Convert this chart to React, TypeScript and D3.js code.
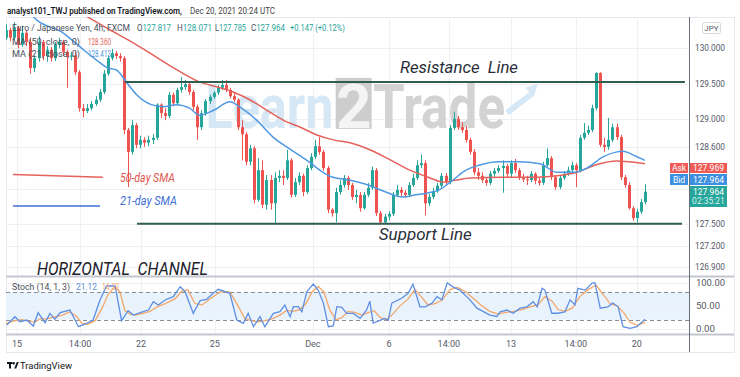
import React from 'react';
import * as d3 from 'd3';

// ---------- DATA (EUR/JPY 4h) ----------
const firstOpen = 130.15;
const closes = [
  130.26,130.15,130.29,130.05,130.22,130.09,129.72,129.86,130.09,129.89,
  129.98,129.86,130.05,130.09,129.95,129.88,129.90,129.66,129.15,129.11,
  129.15,129.21,129.27,129.38,129.64,129.86,129.93,129.89,129.86,128.84,
  128.53,128.91,128.63,128.70,128.66,128.70,128.73,129.20,129.08,129.04,
  129.34,129.22,129.41,129.45,129.49,129.38,129.17,128.88,129.08,129.25,
  129.31,129.37,129.44,129.48,129.41,129.32,129.27,128.88,128.78,128.39,
  128.58,127.85,128.27,127.78,128.13,127.80,128.16,128.19,128.16,128.41,
  127.92,128.10,128.19,127.96,128.30,128.46,128.61,128.53,128.30,127.71,
  127.66,127.96,128.06,128.16,128.06,127.89,127.92,127.73,127.92,128.02,
  128.27,127.66,127.53,127.61,127.65,127.92,127.99,127.95,127.92,128.06,
  128.16,128.34,128.37,127.80,127.89,127.97,128.05,128.19,128.10,128.87,
  129.00,128.88,128.84,128.70,128.53,128.24,128.19,128.13,128.09,128.22,
  128.26,128.30,128.33,128.22,128.37,128.27,128.17,128.14,128.13,128.22,
  128.12,128.09,128.34,128.44,128.17,128.03,128.16,128.22,128.27,128.34,
  128.27,128.73,128.80,128.84,129.15,129.65,128.63,128.60,128.70,128.88,
  128.74,128.17,128.06,127.73,127.59,127.68,127.817,127.964,
];
const highs = [
  130.34,130.29,130.37,130.32,130.32,130.26,130.15,129.90,130.17,130.12,
  130.03,130.02,130.09,130.15,130.12,129.98,129.95,129.95,129.69,129.21,
  129.21,129.25,129.32,129.42,129.69,129.90,129.99,129.96,129.93,129.89,
  128.87,128.98,128.94,128.76,128.74,128.76,128.78,129.22,129.22,129.15,
  129.38,129.37,129.44,129.59,129.55,129.52,129.41,129.20,129.12,129.28,
  129.34,129.39,129.48,129.55,129.55,129.44,129.37,129.29,128.98,128.81,
  128.63,128.61,128.44,128.41,128.20,128.20,128.24,128.27,128.27,128.56,
  128.44,128.16,128.24,128.22,128.34,128.51,128.70,128.74,128.56,128.33,
  127.73,128.02,128.13,128.20,128.19,128.09,127.99,127.96,127.96,128.09,
  128.32,128.30,127.69,127.65,127.69,127.96,128.06,128.03,127.99,128.10,
  128.22,128.41,128.49,128.41,127.93,128.02,128.09,128.23,128.23,128.91,
  129.10,129.04,128.95,128.90,128.73,128.57,128.30,128.24,128.17,128.26,
  128.30,128.34,128.41,128.36,128.41,128.43,128.30,128.22,128.19,128.26,
  128.24,128.16,128.39,128.58,128.47,128.20,128.20,128.26,128.32,128.39,
  128.37,128.77,128.94,128.90,129.20,129.66,129.66,128.73,129.01,128.93,
  128.93,128.77,128.20,128.10,127.76,127.72,127.86,128.071,
];
const lows = [
  130.12,130.10,130.12,130.00,130.02,130.03,129.64,129.66,129.81,129.83,
  129.81,129.81,129.82,130.00,129.89,129.44,129.83,129.62,129.10,129.02,
  129.08,129.12,129.18,129.24,129.35,129.61,129.83,129.85,129.81,128.78,
  128.03,128.49,128.58,128.58,128.60,128.61,128.64,128.70,129.01,128.98,
  129.01,129.18,129.20,129.37,129.41,129.34,129.12,128.70,128.84,129.04,
  129.21,129.28,129.34,129.41,129.38,129.29,129.24,128.84,128.41,128.34,
  128.34,127.80,127.82,127.73,127.71,127.71,127.52,128.10,128.06,128.13,
  127.88,127.89,128.06,127.90,127.93,128.27,128.43,128.49,128.26,127.66,
  127.61,127.53,127.92,128.02,127.99,127.85,127.80,127.68,127.71,127.89,
  127.99,127.62,127.51,127.52,127.56,127.62,127.89,127.90,127.88,127.89,
  128.03,128.13,128.30,127.63,127.76,127.86,127.95,128.02,128.06,128.07,
  128.84,128.84,128.80,128.66,128.49,128.20,128.13,128.09,128.05,128.06,
  128.17,128.23,127.95,128.17,128.17,128.23,128.13,128.10,128.06,128.10,
  128.07,128.05,128.06,128.32,128.13,127.99,128.00,128.13,128.19,128.24,
  128.03,128.24,128.70,128.77,128.81,129.12,128.60,128.53,128.56,128.67,
  128.70,128.13,128.02,127.71,127.55,127.53,127.65,127.785,
];

// moving averages: [bar index, price]
const ma50: [number, number][] = [
  [17,130.55],[21.4,130.40],[25.6,130.26],[30,130.12],[35.4,129.93],[41,129.73],[47.7,129.52],
  [51.9,129.45],[55.8,129.38],[59.9,129.27],[64.1,129.12],[68.1,128.98],[72.3,128.88],[76.4,128.77],
  [80.4,128.70],[84.5,128.66],[89.4,128.56],[94.3,128.42],[99.2,128.27],[104.2,128.16],[107.4,128.10],
  [110.8,128.13],[114,128.16],[122.1,128.17],[130.5,128.17],[135.4,128.19],[140.3,128.24],
  [145.2,128.35],[150.1,128.40],[157,128.36],
];
const ma21: [number, number][] = [
  [5,130.55],[7.6,130.40],[14,130.22],[18.2,130.02],[22.3,129.83],[24.7,129.73],[27.2,129.69],
  [29.7,129.51],[32.1,129.34],[35.7,129.20],[38.7,129.17],[41.9,129.20],[45.1,129.15],[47.6,129.05],
  [51,129.12],[55,129.24],[57.4,129.17],[61.6,128.98],[65.6,128.74],[69.5,128.58],[73.7,128.42],
  [77.9,128.24],[80.3,128.17],[84.3,128.13],[88.4,128.07],[93.3,127.96],[97.5,127.89],[100.7,127.92],
  [103.9,127.95],[106.4,127.99],[109.8,128.13],[113,128.27],[116.2,128.34],[121.1,128.39],[126,128.39],
  [131.2,128.36],[135.4,128.24],[139.3,128.24],[142.7,128.30],[146.7,128.46],[150.1,128.53],
  [151.6,128.54],[155,128.46],[157,128.41],
];

// stochastic (14,1,3): [bar index, value]
const stochK: [number, number][] = [
  [0.2,8.6],[2.2,26.6],[3.4,15.8],[5.1,19.4],[6.7,6.5],[7.9,35.3],[9.6,13.7],[10.8,33.8],[12,20.9],
  [13.3,35.3],[15.7,41],[17.8,5],[19.8,12.2],[21.4,19.4],[23.1,62.6],[24.7,92.9],[26.8,92.9],[28.4,18],
  [30,39.6],[31.3,30.2],[33.7,37.4],[35,41],[36.2,59],[37.4,51.8],[39.1,62.6],[41.1,69.8],[42.8,91.4],
  [44,80.6],[46,33.8],[47.7,61.2],[49.3,64.1],[50.9,77.1],[52.2,85.7],[55,77.1],[56.7,19.4],[58.3,12.2],
  [59.5,33.8],[60.8,5],[62.4,26.6],[63.6,5],[65.7,33.8],[67.3,37.4],[68.5,51.8],[69.8,26.6],[70.6,48.2],
  [71.8,48.2],[72.7,37.4],[73.9,80.6],[75.5,97.2],[76.7,84.2],[78,55.4],[79.2,5],[80.4,6.5],[81.3,48.2],
  [82.5,46.8],[83.7,33.8],[85.3,33.8],[87,23],[88.6,41],[89.4,60],[90.2,13],[93.1,23],[93.9,19],
  [94.8,56],[97.3,67],[98.8,77],[100,97],[101.7,48],[103,48],[104.7,56],[105.9,70],[107.1,63],
  [108.4,100],[109.8,91],[111.5,84],[114,63],[115.7,45],[118.9,30],[120.6,27],[121.4,37],[123.1,41],
  [124.6,34],[126.3,45],[128,48],[129.5,59],[130.5,48],[131.7,88],[132.4,84],[134.1,34],[135.6,34],
  [137.3,37],[138.6,63],[139.8,52],[140.5,88],[142.3,84],[144,99],[144.7,100],[146,45],[147.9,48],
  [149.1,56],[150.4,48],[151.6,5],[153.3,1.5],[155,5],[157,21.12],
];
const stochD: [number, number][] = [
  [0,12],[2.2,18],[3.9,20],[5.4,17],[7.1,15],[8.4,22],[10.1,22],[11.3,25],[12.5,27],[13.8,30],
  [15.7,37],[17.2,28],[18.7,12],[20.1,10],[21.9,18],[23.6,45],[25.1,75],[26.8,92],[28,80],[29.2,40],
  [30.5,32],[31.7,30],[33.7,34],[35.4,38],[37.1,48],[39.1,55],[41.5,65],[43.2,82],[44.7,85],[46.4,55],
  [48.2,52],[50.1,65],[52.6,80],[55,80],[57,50],[58.7,22],[60.4,18],[61.9,15],[63.6,18],[65.4,22],
  [67.3,30],[69,40],[70.5,38],[72.2,42],[73.7,55],[75.2,80],[76.7,92],[78.1,80],[79.6,40],[81.1,20],
  [82.6,25],[84,38],[85.7,36],[87.5,30],[88.9,35],[90.4,40],[91.9,25],[93.4,20],[94.8,30],[96.8,50],
  [98.8,65],[100.5,85],[102,70],[103.7,52],[105.4,55],[107.1,62],[109.1,85],[111,90],[113,80],[115,65],
  [116.9,50],[118.9,38],[120.9,32],[122.8,36],[124.8,38],[126.8,42],[128.7,48],[130.7,52],[132.4,70],
  [134.2,60],[135.6,42],[137.4,38],[139.1,45],[141,70],[143,85],[145,95],[146.7,75],[148.4,55],
  [150.1,50],[151.8,35],[153.3,15],[155,8],[157,14.32],
];

const priceTicks = [130, 129.5, 129, 128.6, 127.5, 127.2, 126.9];
const hiddenGridPrices = [128.0];
const stochTicks = [100, 50, 0];
const timeTickIdx = [2.7, 18.2, 33.2, 51.3, 75.4, 94.1, 108.8, 124.1, 140, 155];
const timeTickLabels = ['15', '14:00', '22', '25', 'Dec', '6', '14:00', '13', '14:00', '20'];

// drawings: horizontal channel
const resistance = { from: 29.2, to: 166.8, price: 129.52 };
const support = { from: 32.2, to: 166.1, price: 127.51 };

// ---------- LAYOUT ----------
const W = 740, H = 377;
const L = 6, R = 689, MT = 17, MB = 276, ST = 277, SB = 334, AB = 352;
const UP = '#26a69a', DN = '#ef5350';
const FONT = 'Roboto, "Liberation Sans", Arial, sans-serif';

export default function App() {
  const x = d3.scaleLinear().domain([0, 157]).range([6, 645]);
  const yP = d3.scaleLinear().domain([126.9, 130]).range([266.7, 48.3]);
  const yS = d3.scaleLinear().domain([0, 100]).range([329, 282.7]);

  const maLine = d3.line<[number, number]>().x(d => x(d[0])).y(d => yP(d[1])).curve(d3.curveMonotoneX);
  const stLine = d3.line<[number, number]>().x(d => x(d[0])).y(d => yS(d[1]));

  const candles = closes.map((c, i) => ({ i, o: i === 0 ? firstOpen : closes[i - 1], h: highs[i], l: lows[i], c }));

  return (
    <div style={{ position: 'absolute', left: 0, top: 0, width: W, height: H, background: '#fff' }}>
      <svg width={W} height={H} style={{ display: 'block', fontFamily: FONT }}>
        <defs>
          <clipPath id="main"><rect x={L} y={MT} width={R - L} height={MB - MT} /></clipPath>
          <clipPath id="st"><rect x={L} y={ST} width={R - L} height={SB - ST} /></clipPath>
        </defs>
        <rect x={0} y={0} width={W} height={H} fill="#fff" />

        {/* header */}
        <text x={7} y={14} fontSize={8.2} fontWeight={600} textLength={175} lengthAdjust="spacingAndGlyphs" fill="#131722">analyst101_TWJ published on TradingView.com,</text>
        <text x={190} y={14} fontSize={8.2} textLength={85} lengthAdjust="spacingAndGlyphs" fill="#444">Dec 20, 2021 20:24 UTC</text>

        {/* frame */}
        <rect x={L + 0.5} y={MT + 0.5} width={734 - L} height={AB - MT} fill="none" stroke="#e6e8ee" />

        {/* grids */}
        {timeTickIdx.map((t, k) => (
          <line key={'vg' + k} x1={Math.round(x(t)) + 0.5} x2={Math.round(x(t)) + 0.5} y1={MT} y2={SB} stroke="#eef0f4" />
        ))}
        {[...priceTicks, ...hiddenGridPrices].map((p, k) => (
          <line key={'hg' + k} x1={L} x2={R} y1={Math.round(yP(p)) + 0.5} y2={Math.round(yP(p)) + 0.5} stroke="#eef0f4" />
        ))}

        {/* watermark */}
        <g clipPath="url(#main)">
          <text x={x(49)} y={yP(128.87)} fontSize={62} fontWeight={700} fill="#d6e7f5" textLength={128} lengthAdjust="spacingAndGlyphs">Learn</text>
          <rect x={x(81)} y={yP(129.58)} width={36} height={51} fill="#cdcdcd" />
          <text x={x(81) + 18} y={yP(128.87)} fontSize={62} fontWeight={700} fill="#f4f4f4" textAnchor="middle">2</text>
          <text x={x(90.2)} y={yP(128.87)} fontSize={62} fontWeight={700} fill="#d3d3d3" textLength={132} lengthAdjust="spacingAndGlyphs">Trade</text>
          <polygon
            points={[
              [x(122.7), yP(129.12)], [x(128.6), yP(129.38)], [x(127.6), yP(129.44)],
              [x(130.7), yP(129.50)], [x(129.8), yP(129.33)], [x(128.9), yP(129.29)], [x(123.5), yP(129.05)],
            ].map(p => p.join(',')).join(' ')}
            fill="#d6e7f5"
          />
        </g>

        {/* candles */}
        <g clipPath="url(#main)">
          {candles.map(d => {
            const cx = Math.round(x(d.i));
            const up = d.c >= d.o;
            const col = up ? UP : DN;
            const yt = yP(Math.max(d.o, d.c));
            const yb = yP(Math.min(d.o, d.c));
            return (
              <g key={d.i}>
                <line x1={cx + 0.5} x2={cx + 0.5} y1={yP(d.h)} y2={yP(d.l)} stroke={col} strokeWidth={1} />
                <rect x={cx - 1} y={yt} width={3} height={Math.max(1, yb - yt)} fill={col} />
              </g>
            );
          })}
          <path d={maLine(ma50) || ''} fill="none" stroke="#e4625b" strokeWidth={1.5} />
          <path d={maLine(ma21) || ''} fill="none" stroke="#4f98e2" strokeWidth={1.5} />

          {/* channel lines */}
          <line x1={x(resistance.from)} x2={x(resistance.to)} y1={yP(resistance.price)} y2={yP(resistance.price)} stroke="#2f5d4f" strokeWidth={2} />
          <line x1={x(support.from)} x2={x(support.to)} y1={yP(support.price)} y2={yP(support.price)} stroke="#2f5d4f" strokeWidth={2} />

          {/* SMA legend drawings */}
          <line x1={x(1.7)} x2={x(23.8)} y1={yP(128.21)} y2={yP(128.17)} stroke="#e4625b" strokeWidth={1.5} />
          <line x1={x(1.7)} x2={x(23.1)} y1={yP(127.76)} y2={yP(127.76)} stroke="#3f6fd6" strokeWidth={1.5} />
          <text x={x(28)} y={yP(128.10)} fontSize={12.5} fontStyle="italic" fill="#e0574f" textLength={55} lengthAdjust="spacingAndGlyphs">50-day SMA</text>
          <text x={x(28)} y={yP(127.77)} fontSize={12.5} fontStyle="italic" fill="#3f6fd6" textLength={57} lengthAdjust="spacingAndGlyphs">21-day SMA</text>

          <text x={x(96.8)} y={yP(129.65)} fontSize={17} fontStyle="italic" fill="#2a2e39" textLength={118} lengthAdjust="spacingAndGlyphs" style={{ whiteSpace: 'pre' }}>Resistance  Line</text>
          <text x={x(91.6)} y={yP(127.28)} fontSize={17} fontStyle="italic" fill="#2a2e39" textLength={93} lengthAdjust="spacingAndGlyphs">Support Line</text>
          <text x={x(7.6)} y={yP(126.78)} fontSize={18} fontStyle="italic" fill="#1e222d" textLength={171} lengthAdjust="spacingAndGlyphs" style={{ whiteSpace: 'pre' }}>HORIZONTAL  CHANNEL</text>
        </g>

        {/* legend */}
        <g fontSize={9}>
          <text x={12} y={31} fill="#4a4f5c" textLength={118} lengthAdjust="spacingAndGlyphs">Euro / Japanese Yen, 4h, FXCM</text>
          <text x={137} y={31} textLength={34} lengthAdjust="spacingAndGlyphs"><tspan fill="#4a4f5c">O</tspan><tspan fill={UP}>127.817</tspan></text>
          <text x={177} y={31} textLength={35} lengthAdjust="spacingAndGlyphs"><tspan fill="#4a4f5c">H</tspan><tspan fill={UP}>128.071</tspan></text>
          <text x={215} y={31} textLength={31} lengthAdjust="spacingAndGlyphs"><tspan fill="#4a4f5c">L</tspan><tspan fill={UP}>127.785</tspan></text>
          <text x={251} y={31} textLength={34} lengthAdjust="spacingAndGlyphs"><tspan fill="#4a4f5c">C</tspan><tspan fill={UP}>127.964</tspan></text>
          <text x={290} y={31} fill={UP} textLength={55} lengthAdjust="spacingAndGlyphs">+0.147 (+0.12%)</text>
          <text x={12} y={44.5} fill="#4a4f5c" textLength={68} lengthAdjust="spacingAndGlyphs">MA (50, close, 0)</text>
          <text x={88} y={44.5} fill="#e4625b" textLength={23} lengthAdjust="spacingAndGlyphs">128.360</text>
          <text x={12} y={57} fill="#4a4f5c" textLength={68} lengthAdjust="spacingAndGlyphs">MA (21, close, 0)</text>
          <text x={88} y={57} fill="#4f98e2" textLength={23} lengthAdjust="spacingAndGlyphs">128.413</text>
        </g>

        {/* stochastic pane */}
        <rect x={L} y={yS(80)} width={R - L} height={yS(20) - yS(80)} fill="#e8f3fd" />
        {stochTicks.map((v, k) => (
          <line key={'sg' + k} x1={L} x2={R} y1={Math.round(yS(v)) + 0.5} y2={Math.round(yS(v)) + 0.5} stroke="#eef0f4" />
        ))}
        {[80, 20].map(v => (
          <line key={'sd' + v} x1={L} x2={R} y1={Math.round(yS(v)) + 0.5} y2={Math.round(yS(v)) + 0.5} stroke="#8a8e99" strokeDasharray="4 3" />
        ))}
        <g clipPath="url(#st)">
          <path d={stLine(stochD) || ''} fill="none" stroke="#f3a76a" strokeWidth={1.3} />
          <path d={stLine(stochK) || ''} fill="none" stroke="#5f8fe3" strokeWidth={1.3} />
        </g>
        <text x={12} y={290} fontSize={9} textLength={58} lengthAdjust="spacingAndGlyphs" fill="#4a4f5c">Stoch (14, 1, 3)</text>
        <text x={76} y={290} fontSize={9} textLength={21} lengthAdjust="spacingAndGlyphs" fill="#5f8fe3">21.12</text>
        <text x={102} y={290} fontSize={9} textLength={17} lengthAdjust="spacingAndGlyphs" fill="#f3a76a">14.32</text>

        {/* pane separators */}
        <line x1={L} x2={734} y1={276.5} y2={276.5} stroke="#c4c7cf" strokeWidth={2} />
        <line x1={L} x2={734} y1={334.5} y2={334.5} stroke="#c4c7cf" strokeWidth={2} />

        {/* right axis */}
        <line x1={R + 0.5} x2={R + 0.5} y1={MT} y2={AB} stroke="#6b6f7a" />
        {priceTicks.map((p, k) => (
          <text key={'pt' + k} x={695} y={yP(p) + 3} fontSize={9} fill="#555a66" textLength={30} lengthAdjust="spacingAndGlyphs">{p.toFixed(3)}</text>
        ))}
        {stochTicks.map((v, k) => (
          <text key={'stl' + k} x={696} y={yS(v) + 3} fontSize={9} fill="#555a66" textLength={v === 0 ? 19 : v === 50 ? 24 : 29} lengthAdjust="spacingAndGlyphs">{v.toFixed(2)}</text>
        ))}
        <rect x={702.5} y={22.5} width={18} height={11} rx={2} fill="#fff" stroke="#d6d8de" />
        <text x={711.5} y={31} fontSize={8} textAnchor="middle" fill="#555a66">JPY</text>

        {/* price boxes */}
        <rect x={670} y={163} width={18} height={10} fill="#ef5a55" />
        <text x={679} y={171} fontSize={8.5} textAnchor="middle" fill="#fff">Ask</text>
        <rect x={690} y={163} width={37} height={10} fill="#ef5a55" />
        <text x={708.5} y={171} fontSize={8.5} textAnchor="middle" fill="#fff">127.969</text>
        <rect x={670} y={174} width={18} height={11} fill="#3d8fe0" />
        <text x={679} y={182.5} fontSize={8.5} textAnchor="middle" fill="#fff">Bid</text>
        <rect x={690} y={174} width={37} height={11} fill="#3d8fe0" />
        <text x={708.5} y={182.5} fontSize={8.5} textAnchor="middle" fill="#fff">127.964</text>
        <rect x={690} y={186} width={37} height={21} fill="#26a69a" />
        <text x={708.5} y={195} fontSize={8.5} textAnchor="middle" fill="#fff">127.964</text>
        <text x={708.5} y={204} fontSize={8.5} textAnchor="middle" fill="#d8f2ee">02:35:21</text>

        {/* time axis */}
        {timeTickIdx.map((t, k) => (
          <text key={'tl' + k} x={x(t)} y={346.5} fontSize={9} textAnchor="middle" fill="#555a66">{timeTickLabels[k]}</text>
        ))}

        {/* TradingView footer */}
        <g fill="#131722">
          <rect x={7} y={362} width={5.5} height={2} />
          <rect x={9} y={362} width={2} height={6.5} />
          <circle cx={13.7} cy={363.3} r={1.2} />
          <polygon points="14.2,368.5 16.8,362 18.8,362 16.2,368.5" />
        </g>
        <text x={20} y={368.5} fontSize={9.5} fill="#131722" textLength={52} lengthAdjust="spacingAndGlyphs">TradingView</text>
      </svg>
    </div>
  );
}
